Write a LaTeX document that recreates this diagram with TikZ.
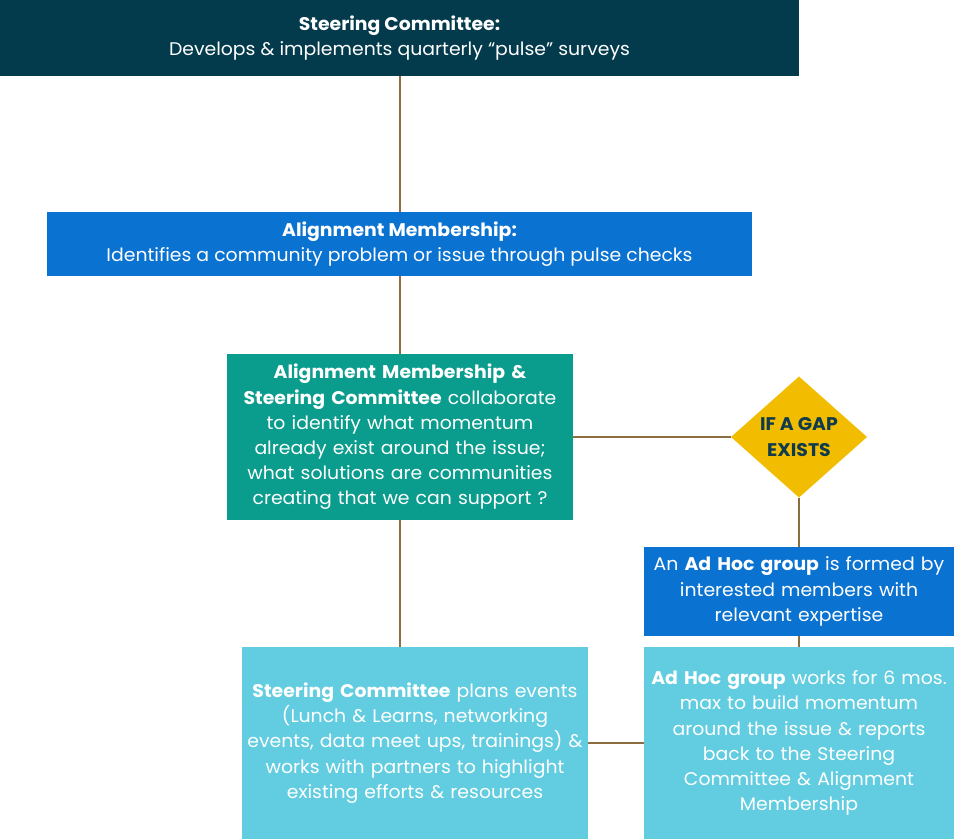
\documentclass[tikz,border=0pt]{standalone}
\usepackage{fontspec}
\setmainfont{Poppins}[FakeStretch=1.03]
\usetikzlibrary{shapes.geometric}
\definecolor{topc}{HTML}{033B4C}
\definecolor{bluec}{HTML}{0A72D1}
\definecolor{tealc}{HTML}{0A9C8C}
\definecolor{yelc}{HTML}{F2BD00}
\definecolor{cyanc}{HTML}{62CDE0}
\definecolor{linec}{HTML}{8B6D3F}
\definecolor{dtext}{HTML}{0F3B4C}
\begin{document}
\begin{tikzpicture}[x=1pt,y=-1pt,
  box/.style={rectangle, inner sep=0pt, outer sep=0pt, text=white, align=center,
    font=\fontsize{18.3}{25.2}\selectfont},
  conn/.style={draw=linec, line width=1.3pt}]
\useasboundingbox (0,0) rectangle (956,839);
\node[box, fill=topc, minimum width=799, minimum height=76] (top) at (399.5,38)
  {\textbf{Steering Committee:}\\Develops \& implements quarterly “pulse” surveys};
\node[box, fill=bluec, minimum width=705, minimum height=64] (align) at (399.5,244)
  {\textbf{Alignment Membership:}\\Identifies a community problem or issue through pulse checks};
\node[box, fill=tealc, minimum width=346, minimum height=166, text width=346] (collab) at (400,437)
  {\textbf{Alignment Membership \&}\\\textbf{Steering Committee} collaborate\\to identify what momentum\\already exist around the issue;\\what solutions are communities\\creating that we can support ?};
\node[diamond, fill=yelc, inner sep=0pt, outer sep=0pt, minimum width=136, minimum height=121,
  text=dtext, align=center, font=\fontsize{18.3}{25.2}\selectfont\bfseries] (gap) at (799,437)
  {IF A GAP\\EXISTS};
\node[box, fill=bluec, minimum width=310, minimum height=89, text width=310] (adhoc) at (799,591.5)
  {An \textbf{Ad Hoc group} is formed by\\interested members with\\relevant expertise};
\node[box, fill=cyanc, minimum width=310, minimum height=192, text width=310] (works) at (799,743)
  {\textbf{Ad Hoc group} works for 6 mos.\\max to build momentum\\around the issue \& reports\\back to the Steering\\Committee \& Alignment\\Membership};
\node[box, fill=cyanc, minimum width=346, minimum height=192, text width=346] (plans) at (415,743)
  {\textbf{Steering Committee} plans events\\(Lunch \& Learns, networking\\events, data meet ups, trainings) \&\\works with partners to highlight\\existing efforts \& resources};
\draw[conn] (top.south -| 400,0) -- (align.north -| 400,0);
\draw[conn] (align.south -| 400,0) -- (collab.north);
\draw[conn] (collab.east) -- (gap.west);
\draw[conn] (gap.south) -- (adhoc.north);
\draw[conn] (adhoc.south) -- (works.north);
\draw[conn] (collab.south) -- (collab.south |- plans.north);
\draw[conn] (plans.east) -- (works.west);
\end{tikzpicture}
\end{document}
